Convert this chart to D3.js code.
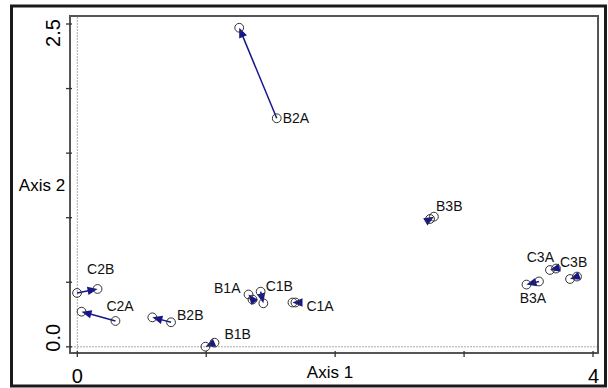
<!DOCTYPE html>
<html>
<head>
<meta charset="utf-8">
<script src="https://cdn.jsdelivr.net/npm/d3@7"></script>
<style>
  body { margin: 0; background: #fff; }
  svg { font-family: "Liberation Sans", Arial, sans-serif; }
</style>
</head>
<body>
<div id="chart"></div>
<script>
// point labels and arrow start/end coordinates (Axis 1, Axis 2)
const labels = ["B2A", "C2B", "C2A", "B2B", "B1B", "B1A", "C1B", "C1A", "B3B", "C3A", "C3B", "B3A"];
const x1 = [1.547, -0.002, 0.296, 0.727, 1.064, 1.359, 1.422, 1.692, 2.736, 3.713, 3.876, 3.581];
const y1 = [1.770, 0.417, 0.200, 0.190, 0.032, 0.366, 0.427, 0.343, 0.990, 0.606, 0.544, 0.506];
const x2 = [1.256, 0.157, 0.033, 0.582, 0.994, 1.328, 1.443, 1.669, 2.766, 3.666, 3.822, 3.484];
const y2 = [2.471, 0.448, 0.272, 0.228, 0.001, 0.405, 0.337, 0.343, 1.008, 0.595, 0.525, 0.482];
const xTicks = [0, 1, 2, 3, 4];
const yTicks = [0, 0.5, 1, 1.5, 2, 2.5];

// label placement relative to the start point (layout only)
const labelPlace = {
    B2A: [6, 5, "start"], C2B: [10, -19, "start"], C2A: [-9, -10, "start"],
    B2B: [6, -2, "start"], B1B: [10, -4, "start"], B1A: [-12, -7, "end"],
    C1B: [5, -1, "start"], C1A: [11, 8, "start"], B3B: [6, -8, "start"],
    C3A: [-2, -7, "end"], C3B: [-17, -10, "start"], B3A: [-6, 22, "middle"]
};

const width = 608, height = 388;
const box = { left: 70, top: 16, right: 598, bottom: 353 };
const navy = "#16168a";

const data = labels.map((l, i) => ({ label: l, x1: x1[i], y1: y1[i], x2: x2[i], y2: y2[i] }));

let svg = d3.select("#chart").append("svg")
    .attr("width", width)
    .attr("height", height);

let x = d3.scaleLinear().domain([0, 4]).range([77.3, 593]);
let y = d3.scaleLinear().domain([0, 2.5]).range([346.8, 24]);

// outer frame
svg.append("rect")
    .attr("x", 11.5).attr("y", 6)
    .attr("width", 594).attr("height", 380)
    .attr("fill", "none").attr("stroke", "#1a1a1a").attr("stroke-width", 3);

// plot box
svg.append("rect")
    .attr("x", box.left).attr("y", box.top)
    .attr("width", box.right - box.left).attr("height", box.bottom - box.top)
    .attr("fill", "none").attr("stroke", "#555").attr("stroke-width", 2);

// zero reference lines
svg.append("line")
    .attr("x1", x(0)).attr("x2", x(0))
    .attr("y1", box.top + 1).attr("y2", box.bottom - 1)
    .attr("stroke", "#aaa").attr("stroke-width", 1).attr("stroke-dasharray", "2,1");
svg.append("line")
    .attr("x1", box.left + 1).attr("x2", box.right - 1)
    .attr("y1", y(0)).attr("y2", y(0))
    .attr("stroke", "#aaa").attr("stroke-width", 1).attr("stroke-dasharray", "2,1");

// ticks
svg.selectAll(".xtick").data(xTicks).join("line")
    .attr("class", "xtick")
    .attr("x1", d => x(d)).attr("x2", d => x(d))
    .attr("y1", box.bottom - 2).attr("y2", box.bottom + 4)
    .attr("stroke", "#333").attr("stroke-width", 1.3);
svg.selectAll(".ytick").data(yTicks).join("line")
    .attr("class", "ytick")
    .attr("x1", box.left - 4).attr("x2", box.left + 2)
    .attr("y1", d => y(d)).attr("y2", d => y(d))
    .attr("stroke", "#333").attr("stroke-width", 1.3);

// end tick labels
svg.append("text").text("0")
    .attr("x", x(0)).attr("y", 383)
    .attr("text-anchor", "middle").attr("font-size", 20);
svg.append("text").text("4")
    .attr("x", x(4) + 0.5).attr("y", 383)
    .attr("text-anchor", "middle").attr("font-size", 20);
svg.append("text").text("2.5")
    .attr("transform", `translate(60,${y(2.5) + 9}) rotate(-90)`)
    .attr("text-anchor", "middle").attr("font-size", 20);
svg.append("text").text("0.0")
    .attr("transform", `translate(60,${y(0) - 9}) rotate(-90)`)
    .attr("text-anchor", "middle").attr("font-size", 20);

// axis titles
svg.append("text").text("Axis 1")
    .attr("x", 330).attr("y", 378)
    .attr("text-anchor", "middle").attr("font-size", 17);
svg.append("text").text("Axis 2")
    .attr("x", 42).attr("y", 191)
    .attr("text-anchor", "middle").attr("font-size", 17);

// arrows
let arrow = svg.selectAll(".arrow").data(data).join("g").attr("class", "arrow");

const headLen = 10, headW = 4.2;
function dir(d) {
    let dx = x(d.x2) - x(d.x1), dy = y(d.y2) - y(d.y1), len = Math.hypot(dx, dy);
    return { ux: dx / len, uy: dy / len, len: len };
}

arrow.append("line")
    .attr("x1", d => x(d.x1)).attr("y1", d => y(d.y1))
    .attr("x2", d => { let u = dir(d); return u.len > headLen ? x(d.x2) - u.ux * headLen * 0.8 : x(d.x1); })
    .attr("y2", d => { let u = dir(d); return u.len > headLen ? y(d.y2) - u.uy * headLen * 0.8 : y(d.y1); })
    .attr("stroke", navy).attr("stroke-width", 1.5);

arrow.append("path")
    .attr("d", d => {
        let u = dir(d), tx = x(d.x2), ty = y(d.y2);
        let bx = tx - u.ux * headLen, by = ty - u.uy * headLen;
        return `M${tx},${ty}L${bx - u.uy * headW},${by + u.ux * headW}L${bx + u.uy * headW},${by - u.ux * headW}Z`;
    })
    .attr("fill", navy);

// open circles at both ends
let pts = data.flatMap(d => [{ x: d.x1, y: d.y1 }, { x: d.x2, y: d.y2 }]);
svg.selectAll(".pt").data(pts).join("circle")
    .attr("class", "pt")
    .attr("cx", d => x(d.x)).attr("cy", d => y(d.y))
    .attr("r", 4.4)
    .attr("fill", "none").attr("stroke", "#333").attr("stroke-width", 1);

// point labels
svg.selectAll(".lab").data(data).join("text")
    .attr("class", "lab")
    .text(d => d.label)
    .attr("x", d => x(d.x1) + labelPlace[d.label][0])
    .attr("y", d => y(d.y1) + labelPlace[d.label][1])
    .attr("text-anchor", d => labelPlace[d.label][2])
    .attr("font-size", 14)
    .attr("fill", "#111");
</script>
</body>
</html>
